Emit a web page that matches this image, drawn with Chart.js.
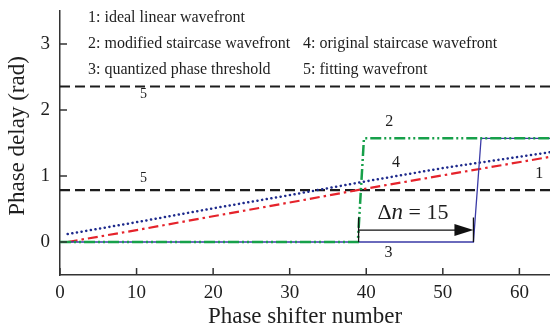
<!DOCTYPE html>
<html>
<head>
<meta charset="utf-8">
<script src="https://cdn.jsdelivr.net/npm/chart.js@4/dist/chart.umd.min.js"></script>
<style>
  html, body { margin: 0; padding: 0; background: #fff; }
  #wrap { width: 550px; height: 327px; position: relative; }
</style>
</head>
<body>
<div id="wrap"><canvas id="c" width="550" height="327"></canvas></div>
<script>
// ---- data ----
const xTicks = [0, 10, 20, 30, 40, 50, 60];
const yTicks = [0, 1, 2, 3];

// 1: ideal linear wavefront (red dash-dot)
const idealX = [1, 10, 20, 31.5, 40, 50, 64];
const idealY = [0, 0.18, 0.39, 0.63, 0.81, 1.01, 1.29];

// 4: original staircase wavefront (blue dotted)
const originalX = [1, 10, 20, 30, 40, 50, 64];
const originalY = [0.12, 0.30, 0.51, 0.71, 0.92, 1.12, 1.36];

// 2: modified staircase wavefront (green dash-dot-dot)
const modifiedX = [0, 38.9, 39.7, 64];
const modifiedY = [0, 0, 1.571, 1.571];

// 3: quantized phase threshold (thin blue solid)
const quantX = [0, 54, 55, 64];
const quantY = [0, 0, 1.571, 1.571];

// 5: fitting wavefront levels (black dashed)
const fitLevels = [2.356, 0.785];
const fitRange = [0, 64];

// curve number labels: [text, x, y]
const curveLabels = [
  ['5', 10.9, 2.23],
  ['5', 10.9, 0.97],
  ['2', 43.0, 1.82],
  ['4', 43.9, 1.20],
  ['1', 62.6, 1.03],
  ['3', 42.9, -0.17]
];

// Δn annotation: from n=39 to n=54
const deltaFrom = 39, deltaTo = 54, deltaArrowY = 0.18, deltaTickTop = 0.37;
const deltaText = ['Δ', 'n', ' = 15'];
const deltaTextPos = [46.1, 0.44];

const legendLines = [
  ['1: ideal linear wavefront', ''],
  ['2: modified staircase wavefront', '4: original staircase wavefront'],
  ['3: quantized phase threshold', '5: fitting wavefront']
];
const yTitle = 'Phase delay (rad)';
const xTitle = 'Phase shifter number';

// ---- build datasets ----
const pts = (xs, ys) => xs.map((x, i) => ({x: x, y: ys[i]}));
const SERIF = '"Liberation Serif", "DejaVu Serif", serif';
const INK = '#1e1e1e';

// Chart.js paints the first dataset on top, so the list runs top -> bottom
const datasets = [];
datasets.push({
  data: pts(modifiedX, modifiedY), borderColor: '#17a04a', borderWidth: 2.5,
  borderDash: [11, 3, 2, 3, 2, 3], pointRadius: 0, fill: false
});
datasets.push({
  data: pts(quantX, quantY), borderColor: '#3a3aa6', borderWidth: 1.3,
  pointRadius: 0, fill: false
});
datasets.push({
  data: pts(originalX, originalY), borderColor: '#1e2a8c', borderWidth: 2.5,
  borderDash: [0.1, 4.6], borderCapStyle: 'round', pointRadius: 0, fill: false
});
datasets.push({
  data: pts(idealX, idealY), borderColor: '#e5232b', borderWidth: 2.2,
  borderDash: [10, 4, 2.5, 4], pointRadius: 0, fill: false
});
fitLevels.forEach(v => {
  datasets.push({
    data: pts(fitRange, [v, v]),
    borderColor: '#1c1c1c', borderWidth: 2.2, borderDash: [10, 5],
    pointRadius: 0, fill: false
  });
});

const decor = {
  id: 'decor',
  afterDatasetsDraw(chart) {
    const ctx = chart.ctx;
    const xs = chart.scales.x, ys = chart.scales.y;
    const area = chart.chartArea;
    ctx.save();
    // inward tick marks
    ctx.strokeStyle = '#333';
    ctx.lineWidth = 1.5;
    ctx.beginPath();
    yTicks.forEach(v => {
      const py = ys.getPixelForValue(v);
      ctx.moveTo(area.left, py); ctx.lineTo(area.left + 7, py);
    });
    xTicks.forEach(v => {
      const px = xs.getPixelForValue(v);
      ctx.moveTo(px, area.bottom); ctx.lineTo(px, area.bottom - 7);
    });
    ctx.stroke();

    // curve labels
    ctx.fillStyle = INK;
    ctx.textAlign = 'center';
    ctx.textBaseline = 'middle';
    curveLabels.forEach(l => {
      ctx.font = (l[0] === '5' ? '14px ' : '16px ') + SERIF;
      ctx.fillText(l[0], xs.getPixelForValue(l[1]), ys.getPixelForValue(l[2]));
    });

    // Δn annotation
    const x1 = xs.getPixelForValue(deltaFrom), x2 = xs.getPixelForValue(deltaTo);
    const ay = ys.getPixelForValue(deltaArrowY);
    const y0 = ys.getPixelForValue(0), yt = ys.getPixelForValue(deltaTickTop);
    ctx.strokeStyle = '#111';
    ctx.lineWidth = 1.3;
    ctx.beginPath();
    ctx.moveTo(x1, y0); ctx.lineTo(x1, yt);
    ctx.moveTo(x2, y0); ctx.lineTo(x2, yt);
    ctx.moveTo(x1, ay); ctx.lineTo(x2 - 12, ay);
    ctx.stroke();
    ctx.fillStyle = '#111';
    ctx.beginPath();
    ctx.moveTo(x2, ay); ctx.lineTo(x2 - 19, ay - 6); ctx.lineTo(x2 - 19, ay + 6);
    ctx.closePath(); ctx.fill();

    const fonts = ['22px ' + SERIF, 'italic 23px ' + SERIF, '22px ' + SERIF];
    let widths = deltaText.map((t, i) => { ctx.font = fonts[i]; return ctx.measureText(t).width; });
    const total = widths.reduce((a, b) => a + b, 0);
    let tx = xs.getPixelForValue(deltaTextPos[0]) - total / 2;
    const ty = ys.getPixelForValue(deltaTextPos[1]);
    ctx.textAlign = 'left';
    ctx.fillStyle = INK;
    deltaText.forEach((t, i) => {
      ctx.font = fonts[i];
      ctx.fillText(t, tx, ty);
      tx += widths[i];
    });

    // legend text block
    ctx.font = '16px ' + SERIF;
    ctx.textBaseline = 'middle';
    const lx1 = area.left + 28, lx2 = area.left + 243;
    legendLines.forEach((ln, i) => {
      const yy = area.top + 7 + i * 26;
      ctx.fillText(ln[0], lx1, yy);
      if (ln[1]) ctx.fillText(ln[1], lx2, yy);
    });

    // y axis title (rotated)
    ctx.translate(18, (area.top + area.bottom) / 2 - 7);
    ctx.rotate(-Math.PI / 2);
    ctx.textAlign = 'center';
    ctx.font = '23px ' + SERIF;
    ctx.fillText(yTitle, 0, 0);
    ctx.restore();
  }
};

new Chart(document.getElementById('c'), {
  type: 'line',
  data: { datasets: datasets },
  options: {
    responsive: false,
    animation: false,
    events: [],
    layout: { padding: { top: 11, right: 0, left: 0, bottom: 0 } },
    plugins: { legend: { display: false }, tooltip: { enabled: false } },
    scales: {
      x: {
        type: 'linear', min: 0, max: 64,
        afterFit: s => { s.height = 52; s.paddingLeft = 0; s.paddingRight = 0; },
        afterBuildTicks: s => { s.ticks = xTicks.map(v => ({value: v})); },
        grid: { display: false, drawTicks: false },
        border: { display: true, color: '#333', width: 1.5 },
        ticks: { color: INK, font: { family: SERIF, size: 19 }, padding: 7, maxRotation: 0, autoSkip: false },
        title: { display: true, text: xTitle, color: INK,
                 font: { family: SERIF, size: 23, lineHeight: 1 }, padding: { top: 0, bottom: -1 } }
      },
      y: {
        type: 'linear', min: -0.5, max: 3.5,
        afterFit: s => { s.width = 60; s.paddingTop = 0; s.paddingBottom = 0; },
        afterBuildTicks: s => { s.ticks = yTicks.map(v => ({value: v})); },
        grid: { display: false, drawTicks: false },
        border: { display: true, color: '#333', width: 1.5 },
        ticks: { color: INK, font: { family: SERIF, size: 19 }, padding: 10, autoSkip: false },
        title: { display: false }
      }
    }
  },
  plugins: [decor]
});
</script>
</body>
</html>
